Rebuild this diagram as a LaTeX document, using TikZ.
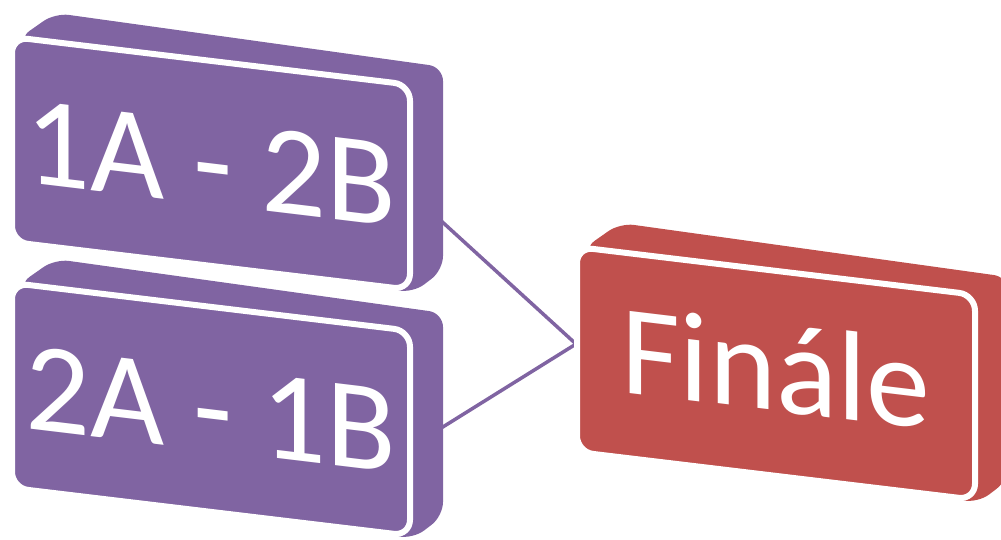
\documentclass[tikz,border=0pt]{standalone}
\usepackage{fontspec}
\setmainfont{Carlito}
\definecolor{slabviolet}{HTML}{8064A2}
\definecolor{slabred}{HTML}{C0504D}
\begin{document}
\begin{tikzpicture}[x=1pt, y=-1pt, line join=round, line cap=round]
	\def\w{398} \def\h{205} \def\sl{-0.12}
	\useasboundingbox (0,0) rectangle (1001,539);
	\clip (0,0) rectangle (1001,539);
	% connectors first, the slabs hide their ends
	\coordinate (ab-r) at (438,218);
	\coordinate (ba-r) at (438,430);
	\coordinate (fin-l) at (576,344);
	\draw[slabviolet, line width=3.5pt] (ab-r) -- (fin-l);
	\draw[slabviolet, line width=3.5pt] (ba-r) -- (fin-l);
	\foreach \px/\py/\col/\txt/\nm/\ty in {12/37/slabviolet/1A - 2B/ab/126, 12/283/slabviolet/2A - 1B/ba/126, 577/247/slabred/Finále/fin/120}{
		\begin{scope}[shift={(\px,\py)}]
			\fill[\col, rounded corners=14] (6,2) -- (43,-24) -- (431,30) -- (431,233) -- (401,256) -- (200,220) -- cycle;
			\filldraw[fill=\col, draw=white, line width=6pt, rounded corners=16, yslant=\sl] (0,0) rectangle (\w,\h);
			\node[white, yslant=\sl, font=\fontsize{128}{128}\selectfont] (\nm) at (199,\ty) {\txt};
		\end{scope}
	}
\end{tikzpicture}
\end{document}
